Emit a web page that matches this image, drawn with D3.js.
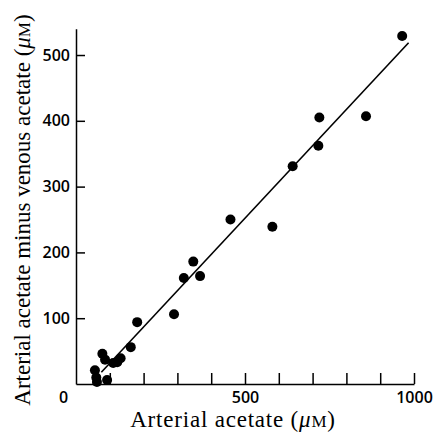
<!DOCTYPE html>
<html>
<head>
<meta charset="utf-8">
<script src="https://cdn.jsdelivr.net/npm/d3@7"></script>
<style>
  body { margin: 0; background: #fff; }
  .tick text { font-family: "Open Sans", sans-serif; font-weight: 600; font-size: 16px; fill: #000; }
  .title { font-family: "Liberation Serif", "Times New Roman", serif; font-size: 23px; fill: #000; }
</style>
</head>
<body>
<svg id="chart" width="436" height="434"></svg>
<script>
// arterial acetate (uM) vs arterial minus venous acetate (uM)
const arterial = [56, 60, 62, 78, 86, 92, 110, 122, 132, 162, 181, 290, 319, 347, 367, 457, 581, 641, 717, 720, 858, 965];
const difference = [21, 10, 3, 46, 37, 6, 32, 33, 39, 56, 94, 106, 161, 186, 164, 250, 239, 331, 362, 405, 407, 529];
const xTicks = [0, 100, 200, 300, 400, 500, 600, 700, 800, 900, 1000];
const xLabels = [0, 500, 1000];
const yTicks = [100, 200, 300, 400, 500];
// regression line end points
const fitX = [75, 984];
const fitSlope = 0.551;
const fitIntercept = -23.5;

const svg = d3.select("#chart");
const x = d3.scaleLinear().domain([0, 1000]).range([76, 414]);
const y = d3.scaleLinear().domain([0, 540]).range([384, 28.7]);

const yAxis = d3.axisLeft(y)
    .tickValues(yTicks)
    .tickSize(-9)
    .tickSizeOuter(0)
    .tickPadding(6);
svg.append("g")
    .attr("transform", `translate(${x(0)},0)`)
    .call(yAxis)
    .call(g => g.selectAll("path, line").attr("stroke", "#000").attr("stroke-width", 1.5));

const xAxis = d3.axisBottom(x)
    .tickValues(xTicks)
    .tickSize(-11)
    .tickSizeOuter(0)
    .tickPadding(8)
    .tickFormat(d => xLabels.includes(d) ? d : "");
svg.append("g")
    .attr("transform", `translate(0,${y(0)})`)
    .call(xAxis)
    .call(g => g.selectAll("path, line").attr("stroke", "#000").attr("stroke-width", 1.5))
    .call(g => g.selectAll(".tick").filter(d => d === 0).select("line").remove())
    .call(g => g.selectAll(".tick").filter(d => d === 0).select("text").attr("x", -13));

// fitted line
svg.append("line")
    .attr("x1", x(fitX[0]))
    .attr("y1", y(fitSlope * fitX[0] + fitIntercept))
    .attr("x2", x(fitX[1]))
    .attr("y2", y(fitSlope * fitX[1] + fitIntercept))
    .attr("stroke", "#000")
    .attr("stroke-width", 1.6);

svg.selectAll("circle.pt")
    .data(arterial)
    .join("circle")
    .attr("class", "pt")
    .attr("cx", d => x(d))
    .attr("cy", (d, i) => y(difference[i]))
    .attr("r", 5)
    .attr("fill", "#000");

const xTitle = svg.append("text")
    .attr("class", "title")
    .attr("x", 233)
    .attr("y", 427)
    .attr("letter-spacing", "0.8px")
    .attr("text-anchor", "middle");
xTitle.append("tspan").text("Arterial acetate (");
xTitle.append("tspan").attr("font-style", "italic").text("\u03bc");
xTitle.append("tspan").attr("font-size", "17px").text("M");
xTitle.append("tspan").text(")");

const yTitle = svg.append("text")
    .attr("class", "title")
    .attr("transform", "translate(30,210) rotate(-90)")
    .attr("text-anchor", "middle");
yTitle.append("tspan").text("Arterial acetate minus venous acetate (");
yTitle.append("tspan").attr("font-style", "italic").text("\u03bc");
yTitle.append("tspan").attr("font-size", "17px").text("M");
yTitle.append("tspan").text(")");
</script>
</body>
</html>
